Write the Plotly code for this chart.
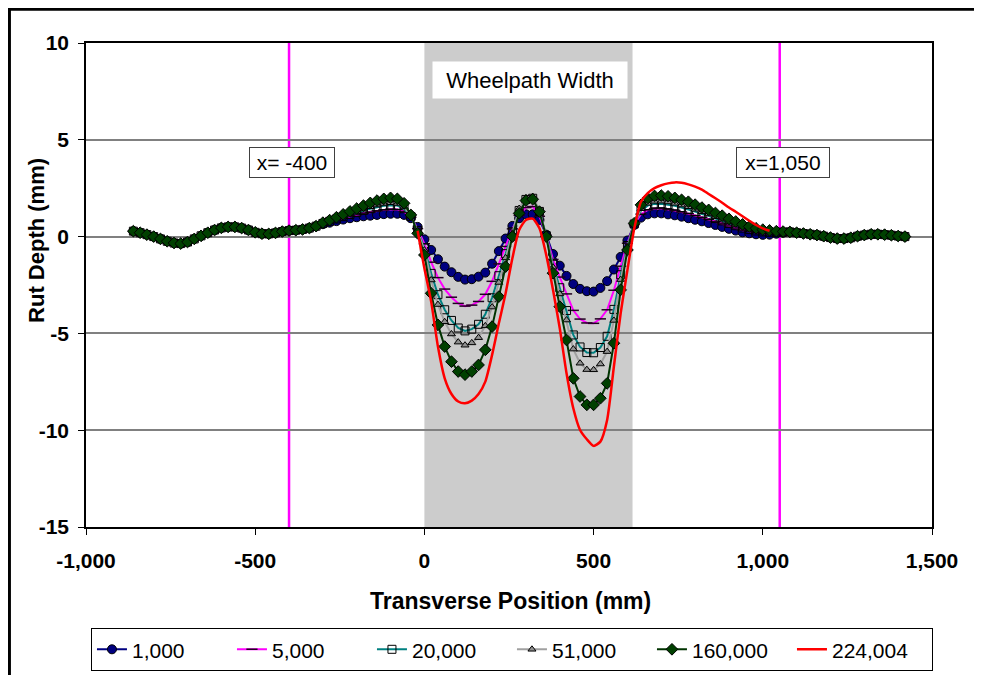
import plotly.graph_objects as go

# transverse positions (mm), one reading every 20 mm
X = list(range(-860, 1421, 20))

# shoulders outside the wheelpath, identical for every pass count
LEFT_SHOULDER = [0.28, 0.20, 0.10, 0.00, -0.12, -0.24, -0.33, -0.36, -0.28, -0.12,
                 0.04, 0.20, 0.34, 0.45, 0.50, 0.50, 0.44, 0.34, 0.22, 0.15,
                 0.14, 0.19, 0.26, 0.31, 0.33, 0.37, 0.44, 0.54]          # -860 .. -320
RIGHT_SHOULDER = [0.24, 0.20, 0.16, 0.12, 0.08, 0.02, -0.05, -0.10, -0.10, -0.06,
                  0.02, 0.08, 0.12, 0.12, 0.10, 0.07, 0.03, 0.00]          # 1080 .. 1420

# rut depth (mm) from -300 to 1060 mm
MID_1000 = [0.64, 0.72, 0.80, 0.88, 0.95, 1.00, 1.05, 1.08, 1.12, 1.16, 1.18, 1.18, 1.12, 0.95, 0.50,
            -0.14, -0.69, -1.17, -1.55, -1.84, -2.08, -2.22, -2.20, -2.07, -1.86,
            -1.40, -0.75, -0.10, 0.55, 0.95, 1.15, 1.15, 0.86, 0.10, -0.90,
            -1.50, -2.03, -2.45, -2.70, -2.82, -2.84, -2.65, -2.30, -1.70, -1.05,
            -0.20, 0.60, 0.98, 1.15, 1.20, 1.20, 1.15, 1.10, 1.03, 0.95,
            0.87, 0.79, 0.70, 0.60, 0.50, 0.40, 0.31, 0.22, 0.17, 0.12,
            0.09, 0.10, 0.15, 0.20]
MID_5000 = [0.66, 0.76, 0.86, 0.96, 1.05, 1.13, 1.20, 1.26, 1.33, 1.38, 1.41, 1.40, 1.29, 1.00, 0.41,
            -0.37, -1.32, -2.12, -2.71, -3.13, -3.45, -3.59, -3.54, -3.35, -2.98,
            -2.31, -1.41, -0.51, 0.40, 1.10, 1.50, 1.55, 1.05, 0.07, -1.18,
            -2.09, -2.96, -3.81, -4.26, -4.46, -4.48, -4.25, -3.78, -2.77, -1.53,
            -0.34, 0.63, 1.16, 1.38, 1.45, 1.46, 1.41, 1.35, 1.27, 1.19,
            1.09, 0.99, 0.89, 0.77, 0.66, 0.55, 0.44, 0.33, 0.27, 0.21,
            0.17, 0.16, 0.19, 0.22]
MID_20000 = [0.68, 0.79, 0.91, 1.03, 1.14, 1.24, 1.35, 1.44, 1.52, 1.59, 1.62, 1.60, 1.44, 1.04, 0.32,
             -0.58, -1.90, -3.00, -3.78, -4.33, -4.72, -4.87, -4.78, -4.53, -4.01,
             -3.16, -2.02, -0.88, 0.25, 1.35, 1.92, 1.98, 1.30, 0.05, -1.43,
             -2.64, -3.82, -5.08, -5.70, -5.99, -6.00, -5.73, -5.15, -3.76, -1.97,
             -0.46, 0.65, 1.34, 1.60, 1.69, 1.70, 1.65, 1.59, 1.50, 1.41,
             1.29, 1.17, 1.07, 0.93, 0.81, 0.68, 0.56, 0.44, 0.36, 0.29,
             0.24, 0.22, 0.22, 0.23]
MID_51000 = [0.70, 0.81, 0.94, 1.07, 1.19, 1.31, 1.43, 1.54, 1.63, 1.71, 1.75, 1.71, 1.53, 1.07, 0.27,
             -0.70, -2.24, -3.51, -4.40, -5.03, -5.45, -5.61, -5.49, -5.22, -4.61,
             -3.64, -2.37, -1.10, 0.17, 1.45, 2.00, 2.07, 1.35, 0.03, -1.58,
             -2.96, -4.31, -5.81, -6.54, -6.87, -6.88, -6.58, -5.94, -4.33, -2.22,
             -0.54, 0.66, 1.44, 1.72, 1.82, 1.83, 1.79, 1.72, 1.63, 1.54,
             1.41, 1.28, 1.17, 1.03, 0.90, 0.76, 0.63, 0.50, 0.41, 0.33,
             0.28, 0.25, 0.24, 0.24]
MID_160000 = [0.72, 0.85, 1.00, 1.15, 1.30, 1.45, 1.60, 1.74, 1.86, 1.95, 2.00, 1.95, 1.72, 1.12, 0.17,
              -0.95, -2.93, -4.56, -5.68, -6.46, -6.97, -7.13, -6.97, -6.63, -5.85,
              -4.65, -3.10, -1.55, 0.00, 1.20, 1.86, 1.93, 1.29, 0.00, -1.89,
              -3.62, -5.34, -7.32, -8.26, -8.69, -8.69, -8.35, -7.58, -5.51, -2.75,
              -0.69, 0.69, 1.64, 1.98, 2.10, 2.12, 2.08, 2.00, 1.90, 1.80,
              1.65, 1.50, 1.38, 1.22, 1.08, 0.92, 0.78, 0.63, 0.52, 0.43,
              0.36, 0.32, 0.28, 0.26]

# last pass count only measured across the wheelpath (-20 .. 1020 mm)
RED_X = [x for x in X if -20 <= x <= 1020]
RUT_224004 = [0.30,
              -1.64, -3.36, -5.68, -7.32, -8.13, -8.52, -8.61, -8.47, -8.13, -7.49,
              -6.11, -4.48, -2.93, -1.12, 0.34, 0.86, 0.93, 0.43, -0.95, -2.75,
              -4.73, -7.06, -8.87, -9.99, -10.47, -10.81, -10.59, -9.47, -6.71, -3.96,
              -1.72, 0.40, 1.80, 2.25, 2.50, 2.65, 2.75, 2.80, 2.78, 2.70,
              2.58, 2.43, 2.20, 1.98, 1.75, 1.50, 1.28, 1.05, 0.82, 0.60,
              0.43, 0.30]

WHEELPATH = (0, 615)
REF_LINES = [-400, 1050]
REF_LABELS = ["x= -400", "x=1,050"]

X_TICKS = [-1000, -500, 0, 500, 1000, 1500]
X_TICK_TEXT = ["-1,000", "-500", "0", "500", "1,000", "1,500"]
Y_TICKS = [-15, -10, -5, 0, 5, 10]
Y_TICK_TEXT = ["-15", "-10", "-5", "0", "5", "10"]

FONT = "Liberation Sans, Arial, sans-serif"

series = [
    ("1,000", MID_1000, dict(color="#000080", width=2),
     dict(symbol="circle", size=9, color="#000080", line=dict(color="#000000", width=1))),
    ("5,000", MID_5000, dict(color="#FF00FF", width=2),
     dict(symbol="line-ew", size=8, color="#000000", line=dict(color="#200020", width=1.5))),
    ("20,000", MID_20000, dict(color="#008080", width=2),
     dict(symbol="square-open", size=8, color="#000000", line=dict(color="#000000", width=1))),
    ("51,000", MID_51000, dict(color="#A0A0A0", width=2),
     dict(symbol="triangle-up", size=7, color="#909090", line=dict(color="#000000", width=1))),
    ("160,000", MID_160000, dict(color="#003300", width=2),
     dict(symbol="diamond", size=9, color="#004000", line=dict(color="#000000", width=1))),
]

fig = go.Figure()
for name, mid, line, marker in series:
    fig.add_trace(go.Scatter(
        x=X, y=LEFT_SHOULDER + mid + RIGHT_SHOULDER, name=name,
        mode="lines+markers", line=line, marker=marker))
fig.add_trace(go.Scatter(
    x=RED_X, y=RUT_224004, name="224,004", mode="lines",
    line=dict(color="#FF0000", width=2.5, shape="spline", smoothing=0.6)))

shapes = [
    # wheelpath band
    dict(type="rect", xref="x", yref="paper", x0=WHEELPATH[0], x1=WHEELPATH[1],
         y0=0, y1=1, fillcolor="#CCCCCC", line_width=0, layer="below"),
    # outer chart frame (only left and top edges fall inside the picture)
    dict(type="rect", xref="paper", yref="paper", x0=-0.0905, x1=1.3, y0=-0.6, y1=1.0697,
         line=dict(color="#000000", width=3), layer="above"),
]
for xv in REF_LINES:
    shapes.append(dict(type="line", xref="x", yref="paper", x0=xv, x1=xv, y0=0, y1=1,
                       line=dict(color="#FF00FF", width=2.5), layer="below"))

annotations = [
    dict(x=312, y=8.09, xref="x", yref="y", text="Wheelpath Width", showarrow=False,
         font=dict(family=FONT, size=22, color="#000000"), bgcolor="#FFFFFF",
         width=186, height=28, borderpad=4),
    dict(x=-391, y=3.83, xref="x", yref="y", text=REF_LABELS[0], showarrow=False,
         font=dict(family=FONT, size=21, color="#000000"), bgcolor="#FFFFFF",
         bordercolor="#404040", borderwidth=1, width=80, height=25, borderpad=2),
    dict(x=1059, y=3.83, xref="x", yref="y", text=REF_LABELS[1], showarrow=False,
         font=dict(family=FONT, size=21, color="#000000"), bgcolor="#FFFFFF",
         bordercolor="#404040", borderwidth=1, width=88, height=25, borderpad=2),
    dict(x=0.502, y=-0.153, xref="paper", yref="paper", text="Transverse Position (mm)",
         xanchor="center", yanchor="middle", showarrow=False,
         font=dict(family=FONT, size=23, color="#000000", weight="bold")),
    dict(x=-0.058, y=0.593, xref="paper", yref="paper", text="Rut Depth (mm)", textangle=-90,
         xanchor="center", yanchor="middle", showarrow=False,
         font=dict(family=FONT, size=22, color="#000000", weight="bold")),
]

# the page body adds an 8 px offset, so margins are shifted to keep the plot in place
fig.update_layout(
    width=982, height=675,
    margin=dict(l=78, r=58, t=35, b=156, autoexpand=False),
    paper_bgcolor="#FFFFFF", plot_bgcolor="#FFFFFF",
    font=dict(family=FONT, size=20, color="#000000"),
    shapes=shapes, annotations=annotations,
    showlegend=True,
    legend=dict(orientation="h", x=0.5035, xanchor="center", y=-0.209, yanchor="top",
                bgcolor="#FFFFFF", bordercolor="#000000", borderwidth=1,
                font=dict(family=FONT, size=21, color="#000000"),
                entrywidth=95, entrywidthmode="pixels"),
)
fig.update_xaxes(
    range=[-1000, 1500], tickvals=X_TICKS, ticktext=X_TICK_TEXT,
    showgrid=False, zeroline=False, showline=True, linecolor="#000000", linewidth=1.5,
    mirror=True, ticks="outside", ticklen=6, tickcolor="#000000", ticklabelstandoff=8,
    tickfont=dict(family=FONT, size=21, color="#000000", weight="bold"))
fig.update_yaxes(
    range=[-15, 10], tickvals=Y_TICKS, ticktext=Y_TICK_TEXT,
    showgrid=True, gridcolor="#808080", gridwidth=1.5, zeroline=False,
    showline=True, linecolor="#000000", linewidth=1.5, mirror=True,
    ticks="outside", ticklen=6, tickcolor="#000000", ticklabelstandoff=5,
    tickfont=dict(family=FONT, size=21, color="#000000", weight="bold"))

fig.write_html("out.html")
